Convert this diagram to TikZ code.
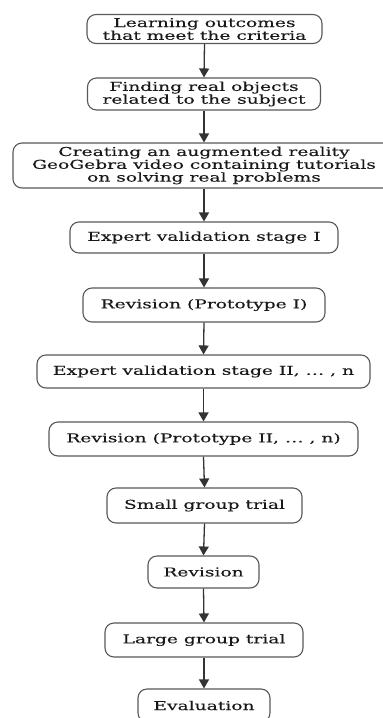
\documentclass[tikz,border=0pt]{standalone}
\usepackage{fontspec}
\setmainfont{DejaVu Serif}[FakeStretch=1.53,FakeBold=0.12]
\usetikzlibrary{arrows.meta}
\begin{document}
\begin{tikzpicture}[x=1pt,y=-1pt,
  stage/.style={draw=black!65, line width=1.1pt, rounded corners=9pt,
    align=center, inner sep=0pt, text=black!90,
    font=\fontsize{12.2}{12.8}\selectfont},
  flow/.style={draw=black!80, line width=1.3pt,
    -{Triangle[length=9pt,width=10pt]}}]
\clip (0,0) rectangle (383,718);
\fill[white] (0,0) rectangle (383,718);

\node[stage, minimum width=235pt, minimum height=29pt] (n1) at (204.5,29)
  {Learning outcomes\\that meet the criteria};
\node[stage, minimum width=233pt, minimum height=32pt] (n2) at (204,94)
  {Finding real objects\\related to the subject};
\node[stage, minimum width=382pt, minimum height=45pt] (n3) at (204,165.5)
  {Creating an augmented reality\\GeoGebra video containing tutorials\\on solving real problems};
\node[stage, minimum width=268pt, minimum height=31pt] (n4) at (204,237.5)
  {Expert validation stage I};
\node[stage, minimum width=242pt, minimum height=34pt] (n5) at (204,305)
  {Revision (Prototype I)};
\node[stage, minimum width=333pt, minimum height=33pt] (n6) at (203.5,371.5)
  {Expert validation stage II, \dots\ , n};
\node[stage, minimum width=309pt, minimum height=34pt] (n7) at (203.5,439)
  {Revision (Prototype II, \dots\ , n)};
\node[stage, minimum width=195pt, minimum height=35pt] (n8) at (204.5,505.5)
  {Small group trial};
\node[stage, minimum width=111pt, minimum height=32pt] (n9) at (203.5,572)
  {Revision};
\node[stage, minimum width=198pt, minimum height=34pt] (n10) at (204,640)
  {Large group trial};
\node[stage, minimum width=132pt, minimum height=33pt] (n11) at (204,705.5)
  {Evaluation};

\foreach \a/\b in {n1/n2,n2/n3,n3/n4,n4/n5,n5/n6,n6/n7,n7/n8,n8/n9,n9/n10,n10/n11}
  \draw[flow] (\a.south) -- (\b.north);
\end{tikzpicture}
\end{document}
